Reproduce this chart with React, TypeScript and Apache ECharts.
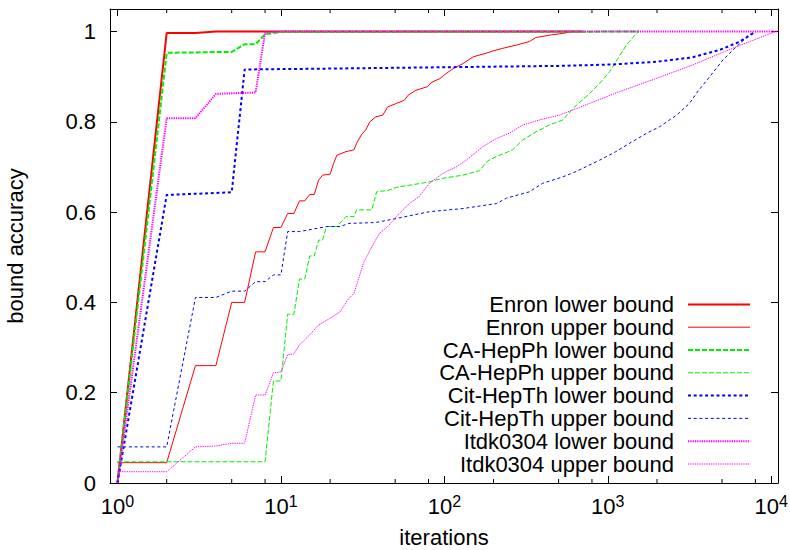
import React, { useEffect, useRef } from 'react';
import * as echarts from 'echarts';

// ---------- data (iterations, bound accuracy) ----------
const enronLowerX = [1, 2, 3, 4, 700];
const enronLowerY = [0, 0.997, 0.997, 1.0, 1.0];

const enronUpperX = [1, 2, 3, 4, 5, 6, 7, 8, 9, 10, 11, 12, 13, 14, 15, 16, 17, 18, 20, 21, 22, 25, 28, 29, 31, 33, 35, 38, 42, 45, 51, 57, 60, 67, 79, 83, 94, 100, 113, 130, 150, 180, 198, 228, 276, 331, 364, 440, 530, 613, 700];
const enronUpperY = [0.045, 0.045, 0.26, 0.26, 0.4, 0.4, 0.512, 0.512, 0.566, 0.566, 0.597, 0.597, 0.625, 0.625, 0.639, 0.639, 0.671, 0.682, 0.684, 0.708, 0.726, 0.734, 0.738, 0.752, 0.771, 0.782, 0.8, 0.811, 0.815, 0.833, 0.841, 0.848, 0.859, 0.87, 0.878, 0.887, 0.896, 0.904, 0.918, 0.929, 0.944, 0.952, 0.957, 0.963, 0.97, 0.978, 0.987, 0.992, 0.996, 1.0, 1.0];

const caLowerX = [1, 2, 5, 6, 7, 8, 10, 1550];
const caLowerY = [0, 0.953, 0.955, 0.972, 0.972, 0.994, 0.999, 1.0];

const caUpperX = [1, 8, 9, 10, 11, 12, 13, 14, 15, 16, 17, 18, 19, 22, 25, 28, 29, 36, 38.5, 45, 51, 67, 81, 98, 130, 164, 185, 208, 262, 302, 364, 438, 530, 613, 775, 890, 1026, 1155, 1300, 1530, 1550];
const caUpperY = [0.047, 0.047, 0.226, 0.226, 0.374, 0.374, 0.452, 0.452, 0.503, 0.503, 0.538, 0.538, 0.568, 0.568, 0.59, 0.59, 0.605, 0.605, 0.645, 0.648, 0.655, 0.662, 0.667, 0.675, 0.682, 0.692, 0.714, 0.723, 0.738, 0.76, 0.778, 0.793, 0.804, 0.83, 0.863, 0.885, 0.911, 0.941, 0.97, 1.0, 1.0];

const citLowerX = [1, 2, 5, 6, 20, 506, 1048, 1973, 3303, 4807, 6365, 8050];
const citLowerY = [0, 0.638, 0.644, 0.916, 0.918, 0.924, 0.927, 0.933, 0.943, 0.959, 0.977, 1.0];

const citUpperX = [1, 2, 3, 4, 5, 6, 7, 8, 9, 10, 11, 13, 19, 23, 26, 38, 51, 81, 130, 208, 240, 331, 400, 530, 640, 890, 1120, 1350, 1730, 2070, 2640, 3160, 3600, 4200, 5060, 6100, 7300, 8050];
const citUpperY = [0.08, 0.08, 0.411, 0.411, 0.425, 0.425, 0.446, 0.446, 0.461, 0.461, 0.557, 0.557, 0.568, 0.568, 0.575, 0.577, 0.586, 0.601, 0.608, 0.619, 0.631, 0.645, 0.664, 0.678, 0.69, 0.715, 0.734, 0.752, 0.775, 0.789, 0.815, 0.841, 0.87, 0.9, 0.937, 0.966, 0.992, 1.0];

const itdkLowerX = [1, 2, 3, 4, 7, 8, 10, 10800];
const itdkLowerY = [0, 0.808, 0.808, 0.862, 0.865, 0.998, 1.0, 1.0];

const itdkUpperX = [1, 2, 3, 4, 5, 6, 7, 8, 9, 10, 11, 12, 13, 15, 17, 20, 23, 25.5, 28, 32, 35, 40, 45, 53, 61, 70, 81, 98, 118, 136, 172, 208, 250, 302, 380, 505, 672, 775, 1180, 1973, 3300, 5800, 10600];
const itdkUpperY = [0.025, 0.025, 0.08, 0.082, 0.088, 0.088, 0.195, 0.195, 0.244, 0.246, 0.284, 0.286, 0.306, 0.328, 0.35, 0.365, 0.379, 0.405, 0.42, 0.487, 0.515, 0.553, 0.568, 0.597, 0.619, 0.634, 0.664, 0.686, 0.7, 0.715, 0.745, 0.763, 0.775, 0.793, 0.804, 0.815, 0.832, 0.841, 0.867, 0.896, 0.926, 0.963, 1.0];

const seriesNames = [
  'Enron lower bound', 'Enron upper bound',
  'CA-HepPh lower bound', 'CA-HepPh upper bound',
  'Cit-HepTh lower bound', 'Cit-HepTh upper bound',
  'Itdk0304 lower bound', 'Itdk0304 upper bound',
];
const seriesX = [enronLowerX, enronUpperX, caLowerX, caUpperX, citLowerX, citUpperX, itdkLowerX, itdkUpperX];
const seriesY = [enronLowerY, enronUpperY, caLowerY, caUpperY, citLowerY, citUpperY, itdkLowerY, itdkUpperY];

const minorTickValues = [2, 5, 8, 20, 50, 80, 200, 500, 800, 2000, 5000, 8000];

const xMin = 0.9;
const xMax = 11000;
const yMin = 0;
const yMax = 1.05;

// ---------- styles ----------
const FONT = "'Liberation Sans', Arial, Helvetica, sans-serif";
const FS = 22;
const styles = [
  { color: '#ff0000', width: 2, type: 'solid' as any },
  { color: '#ff0000', width: 1, type: 'solid' as any },
  { color: '#00ee00', width: 2, type: [5, 2] as any },
  { color: '#00ee00', width: 1, type: [5, 2] as any },
  { color: '#0000ff', width: 2, type: [3, 2.7] as any },
  { color: '#0000ff', width: 1, type: [3, 2.7] as any },
  { color: '#ff00ff', width: 2, type: [1.3, 1] as any },
  { color: '#ff00ff', width: 1, type: [1.3, 1] as any },
];

function zip(xs: number[], ys: number[]) {
  return xs.map((x, i) => [x, ys[i]]);
}

export default function App() {
  const ref = useRef<HTMLDivElement>(null);
  useEffect(() => {
    if (!ref.current) return;
    const chart = echarts.init(ref.current, undefined, { renderer: 'svg' });

    const lineSeries = seriesNames.map((name, i) => ({
      name,
      type: 'line',
      data: zip(seriesX[i], seriesY[i]),
      showSymbol: false,
      symbol: 'none',
      xAxisIndex: 0,
      yAxisIndex: 0,
      lineStyle: { color: styles[i].color, width: styles[i].width, type: styles[i].type },
      itemStyle: { color: styles[i].color },
      emphasis: { disabled: true },
      z: 2 + i,
    }));

    const minorSeries = {
      name: 'minorTicks',
      type: 'custom',
      xAxisIndex: 0,
      yAxisIndex: 0,
      silent: true,
      clip: false,
      data: minorTickValues.map((v) => [v, 0]),
      encode: { x: 0, y: 1 },
      renderItem: (params: any, api: any) => {
        const x = api.coord([api.value(0), 0])[0];
        const cs = params.coordSys;
        const bottom = cs.y + cs.height;
        const top = cs.y;
        return {
          type: 'group',
          children: [
            { type: 'line', shape: { x1: x, y1: bottom, x2: x, y2: bottom - 4 }, style: { stroke: '#000', lineWidth: 1 } },
            { type: 'line', shape: { x1: x, y1: top, x2: x, y2: top + 4 }, style: { stroke: '#000', lineWidth: 1 } },
          ],
        };
      },
      z: 20,
    };

    const powLabel = (v: number) => {
      const n = Math.round(Math.log10(v));
      if (Math.abs(Math.log10(v) - n) > 1e-6) return '';
      return `{b|10}{s|${n}}`;
    };

    const axisCommonLine = { show: true, onZero: false, lineStyle: { color: '#000', width: 1 } };

    chart.setOption({
      animation: false,
      textStyle: { fontFamily: FONT },
      grid: { left: 110, right: 12, top: 9, bottom: 67, containLabel: false, outerBoundsMode: 'none' },
      legend: {
        data: seriesNames.map((name, i) => ({
          name,
          lineStyle: { color: styles[i].color, width: styles[i].width, type: styles[i].type },
          itemStyle: { opacity: 0 },
        })),
        orient: 'vertical',
        right: 39,
        top: 293,
        padding: 0,
        align: 'right',
        itemWidth: 62,
        itemHeight: 14,
        itemGap: 0,
        selectedMode: false,
        textStyle: { fontSize: FS, fontFamily: FONT, color: '#000', lineHeight: 22.8, padding: [0, 9, 0, 0] },
      },
      xAxis: [
        {
          type: 'log', logBase: 10, min: xMin, max: xMax, position: 'bottom',
          axisLine: axisCommonLine,
          axisTick: { show: true, inside: true, length: 7, lineStyle: { color: '#000', width: 1 } },
          axisLabel: {
            formatter: powLabel, margin: 10, color: '#000',
            rich: {
              b: { fontSize: FS, fontFamily: FONT, color: '#000', verticalAlign: 'bottom', lineHeight: 24 },
              s: { fontSize: 16, fontFamily: FONT, color: '#000', verticalAlign: 'bottom', lineHeight: 24, padding: [0, 0, 8, 0] },
            },
          },
          splitLine: { show: false },
          name: 'iterations', nameLocation: 'middle', nameGap: 54,
          nameTextStyle: { fontSize: FS, fontFamily: FONT, color: '#000', verticalAlign: 'middle', lineHeight: 20 },
        },
        {
          type: 'log', logBase: 10, min: xMin, max: xMax, position: 'top',
          axisLine: axisCommonLine,
          axisTick: { show: true, inside: true, length: 7, lineStyle: { color: '#000', width: 1 } },
          axisLabel: { show: false },
          splitLine: { show: false },
        },
      ],
      yAxis: [
        {
          type: 'value', min: yMin, max: yMax, interval: 0.2, position: 'left',
          axisLine: axisCommonLine,
          axisTick: { show: true, inside: true, length: 7, lineStyle: { color: '#000', width: 1 } },
          axisLabel: {
            formatter: (v: number) => (v > 1.0001 ? '' : String(+v.toFixed(1))),
            margin: 14, fontSize: FS, fontFamily: FONT, color: '#000',
          },
          splitLine: { show: false },
          name: 'bound accuracy', nameLocation: 'middle', nameGap: 84,
          nameTextStyle: { fontSize: FS, fontFamily: FONT, color: '#000' },
        },
        {
          type: 'value', min: yMin, max: yMax, interval: 0.2, position: 'right',
          axisLine: axisCommonLine,
          axisTick: { show: true, inside: true, length: 7, lineStyle: { color: '#000', width: 1 } },
          axisLabel: { show: false },
          splitLine: { show: false },
        },
      ],
      series: [...lineSeries, minorSeries],
    });

    return () => chart.dispose();
  }, []);

  return (
    <div
      ref={ref}
      style={{ position: 'absolute', left: 0, top: 0, width: 790, height: 550, background: '#fff' }}
    />
  );
}
